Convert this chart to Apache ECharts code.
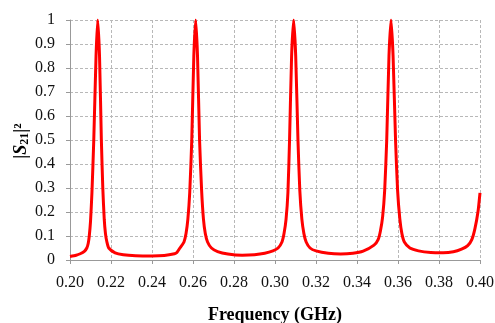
<!DOCTYPE html>
<html>
<head>
<meta charset="utf-8">
<script src="https://cdn.jsdelivr.net/npm/echarts@6/dist/echarts.min.js"></script>
<style>
  html, body { margin: 0; padding: 0; background: #fff; }
  #chart { width: 495px; height: 323px; }
</style>
</head>
<body>
<div id="chart"></div>
<script>
// frequency in GHz, |S21|^2
const freq = [
  0.2000, 0.2030, 0.2050, 0.2070, 0.2082, 0.2089, 0.2094, 0.2100, 0.2107, 0.2116, 0.2127, 0.2135,
  0.2144, 0.2153, 0.2160, 0.2167, 0.2173, 0.2180, 0.2189, 0.2220, 0.2260, 0.2320, 0.2400, 0.2460,
  0.2510, 0.2520, 0.2536, 0.2556, 0.2566, 0.2575, 0.2584, 0.2594, 0.2604, 0.2613, 0.2622, 0.2632,
  0.2642, 0.2651, 0.2660, 0.2671, 0.2690, 0.2720, 0.2770, 0.2840, 0.2900, 0.2950, 0.2990, 0.3015,
  0.3034, 0.3044, 0.3054, 0.3063, 0.3071, 0.3081, 0.3091, 0.3101, 0.3112, 0.3121, 0.3131, 0.3141,
  0.3152, 0.3171, 0.3200, 0.3260, 0.3320, 0.3380, 0.3430, 0.3483, 0.3503, 0.3514, 0.3525, 0.3535,
  0.3545, 0.3556, 0.3566, 0.3576, 0.3588, 0.3598, 0.3609, 0.3619, 0.3631, 0.3658, 0.3700, 0.3760,
  0.3820, 0.3870, 0.3910, 0.3940, 0.3960, 0.3975, 0.3990, 0.4000
];
const s21 = [
  0.015, 0.020, 0.026, 0.036, 0.050, 0.070, 0.10, 0.16, 0.28, 0.50, 0.85, 1.00,
  0.85, 0.50, 0.30, 0.17, 0.11, 0.075, 0.050, 0.030, 0.022, 0.018, 0.017, 0.019,
  0.026, 0.030, 0.050, 0.075, 0.11, 0.17, 0.28, 0.50, 0.85, 1.00, 0.85, 0.50,
  0.29, 0.17, 0.11, 0.075, 0.050, 0.035, 0.025, 0.020, 0.022, 0.028, 0.038, 0.050,
  0.075, 0.11, 0.17, 0.28, 0.50, 0.85, 1.00, 0.85, 0.50, 0.29, 0.17, 0.11,
  0.075, 0.050, 0.038, 0.028, 0.025, 0.028, 0.037, 0.062, 0.085, 0.12, 0.18, 0.29,
  0.50, 0.85, 1.00, 0.85, 0.50, 0.29, 0.17, 0.11, 0.075, 0.050, 0.038, 0.031,
  0.030, 0.034, 0.045, 0.060, 0.085, 0.13, 0.20, 0.28
];

const chart = echarts.init(document.getElementById('chart'));
const serif = '"Liberation Serif", "DejaVu Serif", serif';

chart.setOption({
  animation: false,
  backgroundColor: '#fff',
  grid: { left: 70, right: 15, top: 20, bottom: 63, outerBoundsMode: 'none' },
  xAxis: {
    type: 'value',
    min: 0.2,
    max: 0.4,
    interval: 0.02,
    name: 'Frequency (GHz)',
    nameLocation: 'middle',
    nameGap: 46,
    nameTextStyle: { fontFamily: serif, fontWeight: 'bold', fontSize: 18, color: '#000' },
    axisLine: { lineStyle: { color: '#999' } },
    axisTick: { show: true, length: 4, lineStyle: { color: '#999' } },
    axisLabel: {
      margin: 15, fontFamily: serif, fontSize: 16, color: '#111',
      formatter: (v) => v.toFixed(2)
    },
    splitLine: { show: true, lineStyle: { color: '#b8b8b8', type: [3, 2] } }
  },
  yAxis: {
    type: 'value',
    min: 0,
    max: 1,
    interval: 0.1,
    axisLine: { show: true, lineStyle: { color: '#999' } },
    axisTick: { show: true, length: 4, lineStyle: { color: '#999' } },
    axisLabel: {
      margin: 15, fontFamily: serif, fontSize: 16, color: '#111',
      formatter: (v) => String(Math.round(v * 10) / 10)
    },
    splitLine: { show: true, lineStyle: { color: '#b8b8b8', type: [3, 2] } }
  },
  graphic: [{
    type: 'text',
    x: 21,
    y: 141,
    rotation: Math.PI / 2,
    style: {
      text: '{b||}{s|S}{sub|21}{b||²}',
      align: 'center',
      verticalAlign: 'middle',
      rich: {
        b: { fontFamily: serif, fontWeight: 'bold', fontSize: 18, fill: '#000' },
        s: { fontFamily: serif, fontWeight: 'bold', fontStyle: 'italic', fontSize: 18, fill: '#000' },
        sub: { fontFamily: serif, fontWeight: 'bold', fontSize: 12, fill: '#000', padding: [8, 0, 0, 0] }
      }
    }
  }],
  series: [{
    type: 'line',
    data: freq.map((f, i) => [f, s21[i]]),
    showSymbol: false,
    smooth: 0.2,
    lineStyle: { color: '#f00', width: 3 }
  }]
});
</script>
</body>
</html>
